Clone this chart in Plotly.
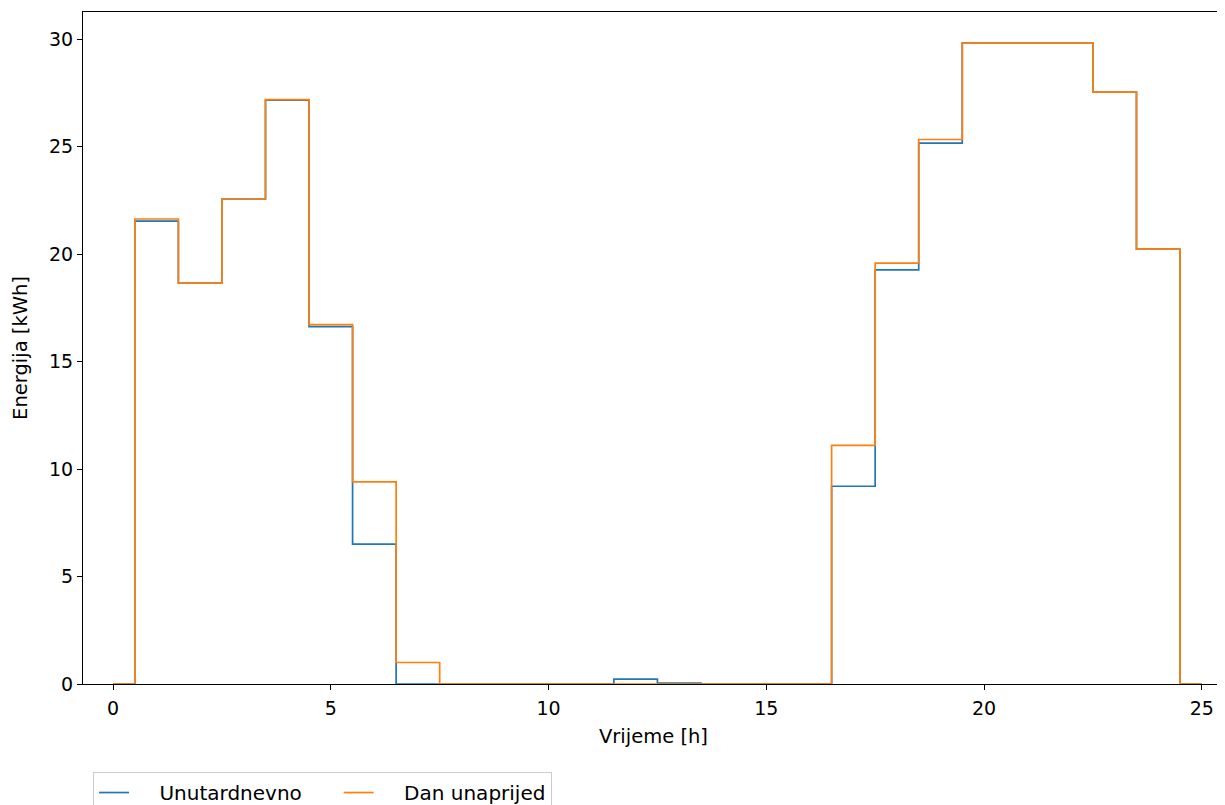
import plotly.graph_objects as go

hours = list(range(26))
unutardnevno = [0, 21.53, 18.65, 22.56, 27.16, 16.62, 6.51, 0, 0, 0, 0, 0, 0.23, 0.04, 0, 0, 0,
                9.2, 19.26, 25.16, 29.81, 29.81, 29.81, 27.53, 20.23, 0]
dan_unaprijed = [0, 21.63, 18.65, 22.56, 27.18, 16.72, 9.40, 1.0, 0, 0, 0, 0, 0, 0, 0, 0, 0,
                 11.1, 19.58, 25.33, 29.81, 29.81, 29.81, 27.53, 20.23, 0]
series_names = ["Unutardnevno", "Dan unaprijed"]

NB = "\u00a0"
fig = go.Figure()
fig.add_trace(go.Scatter(x=hours, y=unutardnevno, mode="lines",
                         name=NB * 4 + series_names[0] + NB * 5,
                         line=dict(color="#1f77b4", width=1.7, shape="hvh")))
fig.add_trace(go.Scatter(x=hours, y=dan_unaprijed, mode="lines",
                         name=NB * 4 + series_names[1],
                         line=dict(color="#ff7f0e", width=1.7, shape="hvh")))

font = "DejaVu Sans"
fig.update_layout(
    width=1217, height=797,
    margin=dict(l=75, r=1, t=4, b=121, autoexpand=False),
    paper_bgcolor="white", plot_bgcolor="white",
    font=dict(family=font, size=19, color="black"),
    showlegend=True,
    legend=dict(orientation="h", x=0.0088, y=-0.131, xanchor="left", yanchor="top",
                bordercolor="#cccccc", borderwidth=1, font=dict(size=20),
                tracegroupgap=0),
)
fig.update_xaxes(range=[-0.69, 25.51], tickvals=[0, 5, 10, 15, 20, 25], automargin=False,
                 showline=True, linecolor="black", linewidth=1.2, mirror=True,
                 ticks="outside", ticklen=5, tickcolor="black", showgrid=False, zeroline=False,
                 tickfont=dict(size=19), ticklabelstandoff=2,
                 title=dict(text="Vrijeme [h]", standoff=11, font=dict(size=19.5)))
fig.update_yaxes(range=[0, 31.26], tickvals=[0, 5, 10, 15, 20, 25, 30], automargin=False,
                 showline=True, linecolor="black", linewidth=1.2, mirror=True,
                 ticks="outside", ticklen=5, tickcolor="black", showgrid=False, zeroline=False,
                 tickfont=dict(size=19),
                 title=dict(text="Energija [kWh]", standoff=16, font=dict(size=19.5)))

fig.write_html("out.html")
